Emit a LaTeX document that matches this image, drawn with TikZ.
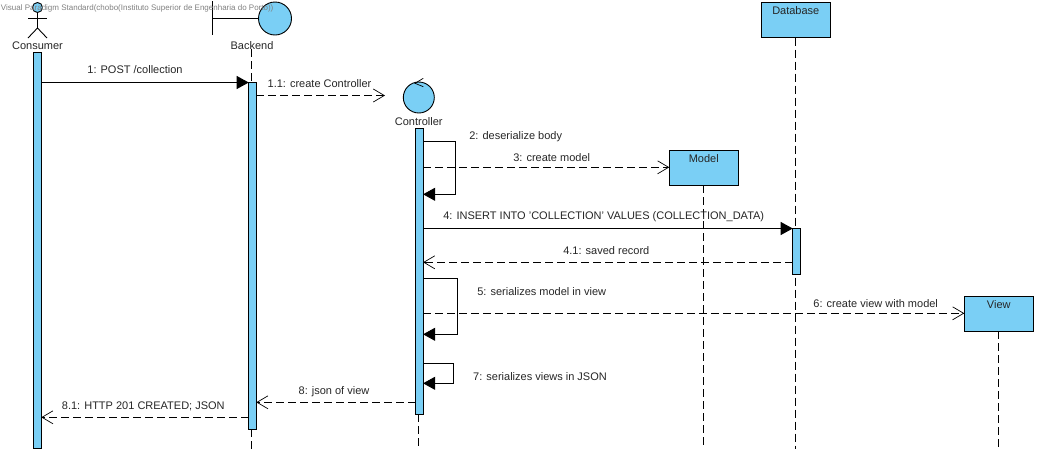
\documentclass[tikz,border=0pt]{standalone}
\usepackage{fontspec}
\setmainfont{Liberation Sans}
\usepackage{tikz}
\usetikzlibrary{arrows.meta,positioning}
\definecolor{umlblue}{HTML}{7ACFF5}
\tikzset{
  line/.style={draw=black,line width=0.9pt},
  txt/.style={inner sep=0pt,outer sep=0pt,text height=8pt,text depth=0pt,font=\fontsize{11}{13}\selectfont,text=black!85},
  objbox/.style={line,fill=umlblue,rectangle,inner sep=0pt,outer sep=0pt,minimum width=69pt,minimum height=35pt},
  bar/.style={line,fill=umlblue,rectangle,inner sep=0pt,outer sep=0pt,minimum width=7.6pt},
  lifeline/.style={line,dash pattern=on 8pt off 4pt},
  syncmsg/.style={line,-{Triangle[length=12pt,width=13pt]}},
  openmsg/.style={line,dash pattern=on 8pt off 4pt,-{Straight Barb[length=11pt,width=13pt,line width=0.7pt]}},
  roundel/.style={line,fill=umlblue,circle,inner sep=0pt,outer sep=0pt}
}
\begin{document}
\begin{tikzpicture}[x=1pt,y=-1pt]
  \useasboundingbox (0,0) rectangle (1038,453);

  \coordinate (lifeend) at (0,449);
  \coordinate (ymsga) at (0,82.5);
  \coordinate (ymsgb) at (0,95.5);
  \coordinate (ymsgc) at (0,167.3);
  \coordinate (ymsgd) at (0,228.5);
  \coordinate (ymsge) at (0,262.3);
  \coordinate (ymsgf) at (0,313.3);
  \coordinate (ymsgg) at (0,402.3);
  \coordinate (ymsgh) at (0,417.3);

  % consumer
  \node[roundel,minimum size=10pt] (consumerhead) at (37.5,7.5) {};
  \coordinate (consumerhip) at (37.5,28);
  \coordinate (consumerarml) at (28,18);
  \coordinate (consumerarmr) at (47,18);
  \coordinate (consumerlegl) at (28,38);
  \coordinate (consumerlegr) at (47,38);
  \draw[line] (consumerhead) -- (consumerhip);
  \draw[line] (consumerarml) -- (consumerarmr);
  \draw[line] (consumerlegl) -- (consumerhip) -- (consumerlegr);
  \node[txt] (consumertext) at (37.5,45) {Consumer};
  \node[bar,minimum height=396pt] (consumerbar) at (37.5,250) {};

  % backend
  \node[roundel,minimum size=33pt] (backendcircle) at (275,18.5) {};
  \coordinate (backendtop) at (212.3,1);
  \coordinate (backendbottom) at (212.3,35);
  \draw[line] (backendtop) -- (backendbottom);
  \draw[line] (backendcircle.west) -- (backendcircle.west -| backendtop);
  \node[txt] (backendtext) at (252,45) {Backend};
  \node[bar,minimum height=347pt] (backendbar) at (252.5,255.5) {};
  \draw[lifeline] (backendtext.south -| 251.5,0) -- (backendbar.north -| 251.5,0);
  \draw[lifeline] (backendbar.south -| 251.5,0) -- (lifeend -| 251.5,0);

  % controller
  \node[roundel,minimum size=31pt] (controllercircle) at (418.8,97.5) {};
  \coordinate (controllertip) at (415,83.3);
  \coordinate (controllerwinga) at (423.3,78.3);
  \coordinate (controllerwingb) at (423.3,86.7);
  \draw[line,line width=0.7pt] (controllerwinga) -- (controllertip) -- (controllerwingb);
  \node[txt] (controllertext) at (418.7,121.5) {Controller};
  \node[bar,minimum height=285.5pt] (controllerbar) at (419.3,271.3) {};
  \draw[lifeline] (controllerbar.south -| 418.3,0) -- (lifeend -| 418.3,0);

  % objects
  \node[objbox] (modelbox) at (703.8,167.8) {};
  \node[txt] (modeltext) at (703.8,158) {Model};
  \draw[lifeline] (modelbox.south) -- (modelbox.south |- lifeend);
  \node[objbox] (databasebox) at (795.8,20) {};
  \node[txt] (databasetext) at (795.8,10) {Database};
  \draw[lifeline] (databasebox.south) -- (databasebox.south |- lifeend);
  \node[objbox] (viewbox) at (998.8,313.8) {};
  \node[txt] (viewtext) at (998.8,304) {View};
  \draw[lifeline] (viewbox.south) -- (viewbox.south |- lifeend);
  \node[bar,minimum height=45.6pt] (databasebar) at (796.5,251.5) {};

  % messages
  \draw[syncmsg] (consumerbar.east |- ymsga) -- (backendbar.west |- ymsga);
  \node[txt] (msgone) at (135,69) {1: POST /collection};
  \coordinate (controllerin) at (385,95.5);
  \draw[openmsg] (backendbar.east |- ymsgb) -- (controllerin);
  \node[txt] (msgonea) at (319.5,83) {1.1: create Controller};

  \coordinate (loopaa) at (455.7,141.3);
  \coordinate (loopab) at (455.7,194.3);
  \draw[syncmsg] (controllerbar.east |- loopaa) -- (loopaa) -- (loopab) -- (controllerbar.east |- loopab);
  \node[txt] (msgtwo) at (515.7,135) {2: deserialize body};
  \draw[openmsg] (controllerbar.east |- ymsgc) -- (modelbox.west |- ymsgc);
  \node[txt] (msgthree) at (551.7,157.3) {3: create model};

  \draw[syncmsg] (controllerbar.east |- ymsgd) -- (databasebar.west |- ymsgd);
  \node[txt] (msgfour) at (603.7,215) {4: INSERT INTO 'COLLECTION' VALUES (COLLECTION\_DATA)};
  \draw[openmsg] (databasebar.west |- ymsge) -- (controllerbar.east |- ymsge);
  \node[txt] (msgfoura) at (606.3,250) {4.1: saved record};

  \coordinate (loopba) at (457.7,278.3);
  \coordinate (loopbb) at (457.7,334.3);
  \draw[syncmsg] (controllerbar.east |- loopba) -- (loopba) -- (loopbb) -- (controllerbar.east |- loopbb);
  \node[txt] (msgfive) at (541.7,291.7) {5: serializes model in view};
  \draw[openmsg] (controllerbar.east |- ymsgf) -- (viewbox.west |- ymsgf);
  \node[txt] (msgsix) at (875.7,303.3) {6: create view with model};

  \coordinate (loopca) at (453.3,363.3);
  \coordinate (loopcb) at (453.3,383.3);
  \draw[syncmsg] (controllerbar.east |- loopca) -- (loopca) -- (loopcb) -- (controllerbar.east |- loopcb);
  \node[txt] (msgseven) at (540,376) {7: serializes views in JSON};
  \draw[openmsg] (controllerbar.west |- ymsgg) -- (backendbar.east |- ymsgg);
  \node[txt] (msgeight) at (334,390) {8: json of view};
  \draw[openmsg] (backendbar.west |- ymsgh) -- (consumerbar.east |- ymsgh);
  \node[txt] (msgeighta) at (143.3,405) {8.1: HTTP 201 CREATED; JSON};

  \node[txt,anchor=west,font=\fontsize{8}{10}\selectfont,text=black!50,text height=6pt] (watermark) at (1,7) {Visual Paradigm Standard(chobo(Instituto Superior de Engenharia do Porto))};
\end{tikzpicture}
\end{document}
